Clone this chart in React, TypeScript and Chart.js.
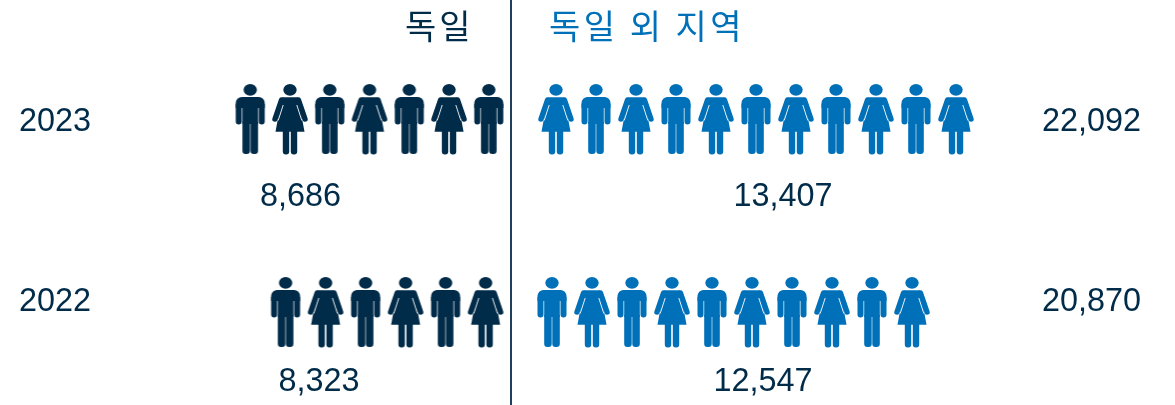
import React, { useEffect, useRef } from "react";
import { Chart, registerables } from "chart.js";

Chart.register(...registerables);

// ---- data ----
const years = ["2023", "2022"];
const germanyValues = [8686, 8323];
const abroadValues = [13407, 12547];
const totalValues = [22092, 20870];
const germanyIconCounts = [7, 6];
const abroadIconCounts = [11, 10];
const germanyHeader = "독일";
const abroadHeader = "독일 외 지역";

// ---- layout and style ----
const DARK = "#002b49";
const BLUE = "#0070b8";
const LINE = "#1f3f5c";
const NUMBER_SIZE = 32.4;
const NUMBER_FONT = `${NUMBER_SIZE}px "Liberation Sans", Arial, sans-serif`;
const KOREAN_FONT = '34px "Noto Sans CJK KR", sans-serif';
const WIDTH = 1175;
const HEIGHT = 405;
const LEFT_AXIS = 91;
const RIGHT_AXIS = 1042;
const SLOT_PX = 40;
const DIVIDER_PX = 511;
const rowIconY = [119, 312];
const rowYearY = [122, 302];
const rowValueY = [197, 382];
const germanyStart = [0.555, 0.635];
const germanyPitch = [0.994, 1];
const abroadStart = [1.125, 1.025];
const abroadPitch = [1, 1];
const germanyFirstIsMan = [true, false];
const abroadFirstIsMan = [false, true];
const germanyValueSlot = [-5.26, -4.8];
const abroadValueSlot = [6.8, 6.3];

function makeIcon(color: string, man: boolean): HTMLCanvasElement {
  const c = document.createElement("canvas");
  c.width = 40;
  c.height = 72;
  const g = c.getContext("2d")!;
  g.translate(20, 1);
  g.fillStyle = color;
  g.beginPath();
  g.ellipse(0, 5.8, 6.7, 5.9, 0, 0, Math.PI * 2);
  g.fill();
  if (man) {
    g.beginPath();
    g.roundRect(-14.5, 13, 29, 11, [6, 6, 0, 0]);
    g.fill();
    g.beginPath();
    g.roundRect(-14.5, 20, 6, 20.5, [0, 0, 3, 3]);
    g.roundRect(8.5, 20, 6, 20.5, [0, 0, 3, 3]);
    g.fill();
    g.fillRect(-7.8, 15, 15.6, 25);
    g.beginPath();
    g.roundRect(-7.8, 38, 7.5, 32, [0, 0, 3.2, 3.2]);
    g.roundRect(0.3, 38, 7.5, 32, [0, 0, 3.2, 3.2]);
    g.fill();
  } else {
    // dress
    g.beginPath();
    g.moveTo(-8, 13.3);
    g.lineTo(8, 13.3);
    g.lineTo(14.5, 47.7);
    g.lineTo(-14.5, 47.7);
    g.closePath();
    g.fill();
    // arms
    g.lineCap = "round";
    g.lineJoin = "round";
    g.lineWidth = 5.4;
    g.strokeStyle = color;
    g.beginPath();
    g.moveTo(-8.5, 16);
    g.lineTo(-15, 35);
    g.moveTo(8.5, 16);
    g.lineTo(15, 35);
    g.stroke();
    // slits between arm and dress
    g.lineCap = "butt";
    g.lineWidth = 0.9;
    g.strokeStyle = "#ffffff";
    g.beginPath();
    g.moveTo(-6.8, 21);
    g.lineTo(-11.8, 36.5);
    g.moveTo(6.8, 21);
    g.lineTo(11.8, 36.5);
    g.stroke();
    // legs
    g.beginPath();
    g.roundRect(-7.2, 46, 6.4, 24.5, [0, 0, 3, 3]);
    g.roundRect(0.8, 46, 6.4, 24.5, [0, 0, 3, 3]);
    g.fill();
  }
  return c;
}

function buildPoints(counts: number[], starts: number[], pitch: number[], sign: number, rowIdx: number) {
  return Array.from({ length: counts[rowIdx] }, (_, i) => ({
    x: sign * (starts[rowIdx] + i * pitch[rowIdx]),
    y: rowIconY[rowIdx],
  }));
}

function buildStyles(counts: number[], firstMan: boolean[], rowIdx: number, color: string) {
  const man = makeIcon(color, true);
  const woman = makeIcon(color, false);
  return Array.from({ length: counts[rowIdx] }, (_, i) =>
    (i % 2 === 0) === firstMan[rowIdx] ? man : woman
  );
}

const fmt = (v: number) => v.toLocaleString("en-US");

const textPlugin = {
  id: "slideText",
  afterDatasetsDraw(chart: any) {
    const { ctx, scales } = chart;
    ctx.save();
    ctx.textBaseline = "middle";
    ctx.font = NUMBER_FONT;
    ctx.textAlign = "center";
    ctx.fillStyle = DARK;
    years.forEach((_, r) => {
      ctx.fillText(fmt(germanyValues[r]), scales.x.getPixelForValue(germanyValueSlot[r]), scales.y.getPixelForValue(rowValueY[r]));
      ctx.fillText(fmt(abroadValues[r]), scales.x.getPixelForValue(abroadValueSlot[r]), scales.y.getPixelForValue(rowValueY[r]));
    });
    ctx.font = KOREAN_FONT;
    ctx.textAlign = "left";
    ctx.fillStyle = DARK;
    (ctx as any).letterSpacing = "3px";
    ctx.fillText(germanyHeader, 405, 26);
    ctx.fillStyle = BLUE;
    (ctx as any).letterSpacing = "3.5px";
    ctx.fillText(abroadHeader, 549, 26);
    ctx.restore();
  },
};

export default function App() {
  const ref = useRef<HTMLCanvasElement>(null);
  useEffect(() => {
    document.body.style.margin = "0";
    document.body.style.background = "#ffffff";
    const datasets: any[] = [];
    years.forEach((_, r) => {
      datasets.push({
        label: `독일 ${years[r]}`,
        data: buildPoints(germanyIconCounts, germanyStart, germanyPitch, -1, r),
        pointStyle: buildStyles(germanyIconCounts, germanyFirstIsMan, r, DARK),
        pointRadius: 1,
        pointBorderWidth: 0,
        borderWidth: 0,
      });
      datasets.push({
        label: `독일 외 지역 ${years[r]}`,
        data: buildPoints(abroadIconCounts, abroadStart, abroadPitch, 1, r),
        pointStyle: buildStyles(abroadIconCounts, abroadFirstIsMan, r, BLUE),
        pointRadius: 1,
        pointBorderWidth: 0,
        borderWidth: 0,
      });
    });
    const yearTicks = (labels: string[]) => ({
      display: true,
      padding: 0,
      autoSkip: false,
      color: DARK,
      font: { family: '"Liberation Sans", Arial, sans-serif', size: NUMBER_SIZE },
      callback: (v: number) => labels[rowYearY.indexOf(v)] ?? "",
    });
    const setRowTicks = (s: any) => {
      s.ticks = rowYearY.map((value) => ({ value }));
    };
    const fitSide = (w: number) => (s: any) => {
      s.width = w;
      s.paddingTop = 0;
      s.paddingBottom = 0;
    };
    const chart = new Chart(ref.current!, {
      type: "scatter",
      data: { datasets },
      plugins: [textPlugin],
      options: {
        responsive: false,
        animation: false,
        layout: { padding: 0, autoPadding: false },
        clip: false as any,
        plugins: { legend: { display: false }, tooltip: { enabled: false } },
        scales: {
          x: {
            type: "linear",
            min: (LEFT_AXIS - DIVIDER_PX) / SLOT_PX,
            max: (RIGHT_AXIS - DIVIDER_PX) / SLOT_PX,
            position: "bottom",
            afterBuildTicks: (s: any) => {
              s.ticks = [{ value: 0 }];
            },
            afterFit: (s: any) => {
              s.height = 0;
              s.paddingLeft = 0;
              s.paddingRight = 0;
            },
            ticks: { display: false },
            border: { display: false },
            grid: { color: LINE, lineWidth: 2, drawTicks: false, tickLength: 0 },
          },
          y: {
            type: "linear",
            min: 0,
            max: HEIGHT,
            reverse: true,
            position: "left",
            afterBuildTicks: setRowTicks,
            afterFit: fitSide(LEFT_AXIS),
            ticks: yearTicks(years),
            border: { display: false },
            grid: { display: false, drawTicks: false, tickLength: 0 },
          },
          y2: {
            type: "linear",
            min: 0,
            max: HEIGHT,
            reverse: true,
            position: "right",
            afterBuildTicks: setRowTicks,
            afterFit: fitSide(WIDTH - RIGHT_AXIS),
            ticks: yearTicks(totalValues.map(fmt)),
            border: { display: false },
            grid: { display: false, drawTicks: false, tickLength: 0 },
          },
        },
      } as any,
    });
    return () => chart.destroy();
  }, []);
  return (
    <canvas
      ref={ref}
      width={WIDTH}
      height={HEIGHT}
      style={{ display: "block", width: WIDTH, height: HEIGHT }}
    />
  );
}
